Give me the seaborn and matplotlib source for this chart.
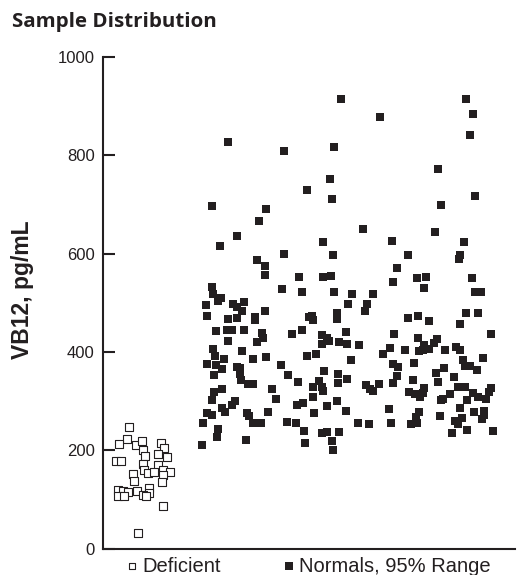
import matplotlib.pyplot as plt
import seaborn as sns
import pandas as pd

# x = position across the plot width (0-100), y = VB12 in pg/mL
deficient_x = [6.4, 5.8, 4.0, 8.0, 9.5, 9.6, 14.2, 14.9, 13.3, 15.6, 10.2, 3.2,
               4.4, 9.6, 13.4, 10.0, 11.0, 12.5, 14.5, 16.3, 7.4, 14.5, 7.6, 14.4,
               3.7, 4.9, 6.1, 8.3, 11.2, 11.2, 9.8, 3.7, 5.1, 10.4, 14.6, 8.6]
deficient_vb12 = [247, 222, 212, 211, 218, 201, 214, 204, 193, 187, 188, 178,
                  178, 172, 170, 159, 154, 156, 160, 156, 152, 150, 138, 136,
                  119, 118, 115, 118, 123, 114, 109, 107, 106, 106, 87, 31]

normal_x = [
    30.4, 43.9, 26.4, 39.6, 37.9, 32.5, 28.4, 44.0, 37.5, 39.3, 39.3, 47.5,
    26.4, 26.6, 43.4, 28.6, 28.0, 24.9, 31.6, 32.5, 34.2, 33.7, 25.2, 39.3,
    30.4, 32.5, 36.9, 36.9, 27.4, 30.0, 31.2, 34.3, 38.5, 38.8, 37.5, 45.8,
    30.4, 26.8, 33.8, 27.2, 29.4, 36.5, 39.5, 25.3, 27.4, 29.0, 32.5, 33.3,
    43.2, 26.9, 33.3, 45.0, 33.4, 35.3, 36.3, 28.8, 27.0, 41.1, 26.4, 32.0,
    31.2, 41.9, 28.8, 29.6, 25.3, 26.4, 35.0, 35.5, 40.0, 24.3, 36.5, 38.3,
    44.6, 46.8, 28.0, 27.6, 24.1, 34.6,
    57.7, 67.2, 56.1, 55.1, 49.6, 55.7, 63.0, 53.3, 70.1, 55.9, 71.4, 53.5,
    55.3,
    70.3, 48.4, 56.1, 60.4, 65.6, 59.5, 64.2, 63.6, 50.7, 50.1, 50.9, 56.9,
    56.7, 48.4, 59.1, 70.7, 53.1, 54.3, 54.9, 53.1, 57.4, 59.3, 62.1, 69.7,
    68.0, 49.4, 51.6, 60.1, 70.5, 71.7, 53.7, 57.1, 59.3, 71.3, 47.4, 52.5,
    57.1, 50.9, 53.1, 53.5, 63.8, 64.8, 65.5, 67.0, 70.5, 51.0, 56.9, 48.6,
    47.2, 54.4, 58.9, 69.5, 51.3, 62.0, 64.6, 69.9, 48.8, 53.1, 54.3, 57.4,
    55.5, 49.0, 55.9,
    88.1, 89.9, 89.2, 81.4, 90.4, 82.0, 80.7, 87.7, 74.0, 86.7, 86.3, 76.3,
    78.3, 89.6,
    78.0, 90.2, 91.7, 74.1, 76.5, 79.1, 88.0, 91.1, 86.7, 94.3, 76.5, 81.0,
    80.3, 78.0, 79.2, 77.7, 76.8, 73.3, 83.0, 85.8, 86.7, 92.2, 87.5, 87.9,
    89.1, 90.8, 75.6, 80.8, 82.8, 85.2, 75.2, 81.4, 74.3, 75.7, 76.9, 78.0,
    77.7, 86.1, 87.8, 84.2, 82.6, 82.0, 88.4, 89.9, 91.1, 93.0, 94.3, 93.8,
    86.7, 76.8, 76.0, 81.8, 87.1, 85.4, 86.2, 90.1, 92.6, 92.6, 92.1, 74.7,
    76.3, 88.4, 84.8, 94.6,
]
normal_vb12 = [
    827, 808, 696, 690, 666, 635, 615, 600, 586, 574, 557, 553,
    532, 518, 527, 510, 504, 496, 498, 491, 502, 484, 474, 484,
    467, 469, 470, 464, 442, 445, 445, 444, 438, 428, 421, 436,
    423, 406, 401, 391, 385, 385, 389, 376, 374, 366, 370, 367,
    374, 353, 356, 353, 342, 335, 335, 324, 319, 325, 303, 301,
    292, 304, 286, 277, 275, 272, 275, 269, 277, 255, 256, 256,
    258, 256, 243, 227, 211, 221,
    915, 878, 817, 752, 730, 710, 649, 623, 625, 598, 571, 552,
    555,
    542, 522, 521, 518, 518, 497, 497, 484, 474, 472, 464, 479,
    466, 445, 440, 436, 434, 428, 423, 417, 421, 417, 415, 408,
    396, 392, 396, 384, 375, 370, 362, 355, 345, 351, 338, 341,
    337, 328, 328, 321, 332, 325, 321, 335, 337, 308, 301, 296,
    292, 289, 280, 284, 275, 256, 254, 255, 240, 236, 238, 237,
    219, 214, 201,
    915, 883, 842, 773, 718, 698, 644, 623, 598, 598, 588, 550,
    552, 550,
    529, 521, 521, 469, 474, 463, 479, 479, 457, 436, 428, 427,
    419, 415, 406, 404, 401, 403, 404, 409, 404, 387, 384, 372,
    372, 364, 377, 358, 367, 349, 342, 338, 318, 315, 309, 326,
    316, 328, 328, 315, 305, 303, 303, 317, 309, 304, 326, 319,
    286, 277, 267, 270, 266, 260, 254, 277, 279, 271, 263, 254,
    255, 241, 235, 239,
]

group_labels = ["Deficient", "Normals, 95% Range"]
y_ticks = [0, 200, 400, 600, 800, 1000]

ink = "#231f20"

sns.set_theme(style="white")
plt.rcParams["font.family"] = ["Liberation Sans", "DejaVu Sans"]

deficient = pd.DataFrame({"pos": deficient_x, "vb12": deficient_vb12})
normals = pd.DataFrame({"pos": normal_x, "vb12": normal_vb12})

fig = plt.figure(figsize=(5.27, 5.75), dpi=100)
ax = fig.add_axes([0.1954, 0.046, 0.7818, 0.855])

sns.scatterplot(data=deficient, x="pos", y="vb12", marker="s", s=34,
                color="white", edgecolor=ink, linewidth=0.8,
                label=group_labels[0], ax=ax)
sns.scatterplot(data=normals, x="pos", y="vb12", marker="s", s=36,
                color=ink, edgecolor=ink, linewidth=0,
                label=group_labels[1], ax=ax)

ax.set_xlim(0, 100)
ax.set_ylim(0, 1000)
ax.set_xticks([])
ax.set_yticks(y_ticks)
ax.set_xlabel("")
ax.set_ylabel("")
ax.tick_params(axis="y", direction="in", length=8.5, width=1.5, color=ink,
               labelsize=12, labelcolor=ink, pad=6, left=True)
for side in ["top", "right"]:
    ax.spines[side].set_visible(False)
for side in ["left", "bottom"]:
    ax.spines[side].set_linewidth(1.5)
    ax.spines[side].set_color(ink)

ax.legend(loc="center left", bbox_to_anchor=(0.056, -0.036), ncol=2,
          frameon=False, fontsize=14.5, handlelength=0.6, handletextpad=0.2,
          columnspacing=3.1, borderaxespad=0, borderpad=0, markerscale=0.85,
          labelcolor=ink)

fig.text(12 / 527, 1 - 27.5 / 575, "Sample Distribution", fontsize=14.75,
         weight="bold", family=["Open Sans", "DejaVu Sans"], color=ink,
         va="baseline")
fig.text(23 / 527, 1 - 290 / 575, "VB12, pg/mL", fontsize=16.5,
         weight="bold", rotation=90, ha="center", va="center", color=ink)

fig.savefig("out.png", dpi=100)
